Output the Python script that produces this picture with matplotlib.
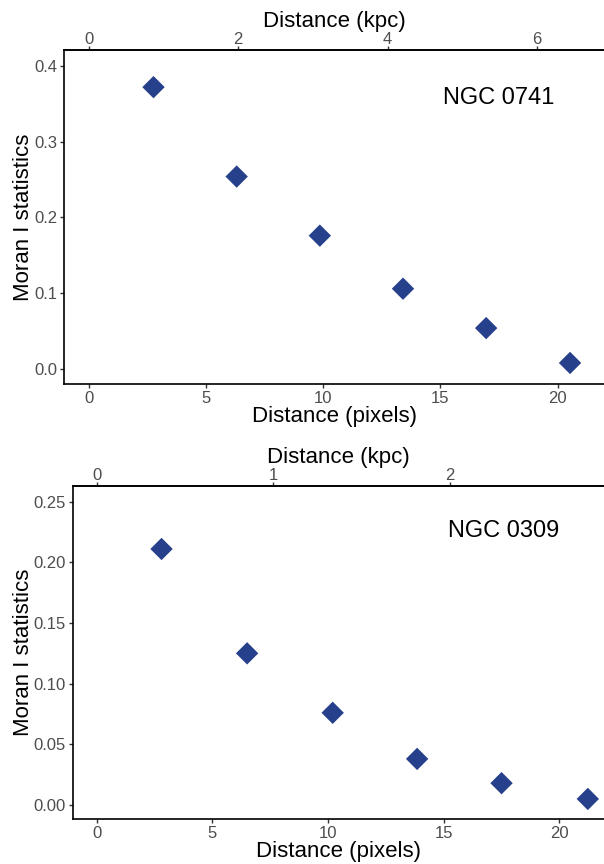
import matplotlib
matplotlib.use("Agg")
import matplotlib.pyplot as plt
import numpy as np

plt.rcParams['font.family'] = ['Liberation Sans', 'DejaVu Sans']

# Panel 1: NGC 0741
dist_px_1 = [2.75, 6.3, 9.85, 13.4, 16.95, 20.53]
moran_1 = [0.372, 0.254, 0.176, 0.106, 0.054, 0.008]
kpc_per_px_1 = 0.314
name_1 = "NGC 0741"

# Panel 2: NGC 0309
dist_px_2 = [2.8, 6.5, 10.2, 13.85, 17.5, 21.23]
moran_2 = [0.211, 0.125, 0.076, 0.038, 0.018, 0.005]
kpc_per_px_2 = 0.1309
name_2 = "NGC 0309"

color = "#27408B"
tick_grey = "#4D4D4D"

fig = plt.figure(figsize=(6.04, 8.64), dpi=100)

def panel(rect, xs, ys, k, name, xlim, ylim, yticks, kticks, ytickfmt, txt_x, txt_y, ylab_x):
    ax = fig.add_axes(rect)
    ax.scatter(xs, ys, marker='D', s=130, color=color, edgecolors='none', zorder=3,
               clip_on=False)
    ax.set_xlim(*xlim)
    ax.set_ylim(*ylim)
    ax.set_xticks([0, 5, 10, 15, 20])
    ax.set_yticks(yticks)
    ax.set_yticklabels([ytickfmt.format(v) for v in yticks])
    ax.spines['right'].set_visible(False)
    for s in ['left', 'bottom', 'top']:
        ax.spines[s].set_linewidth(1.2)
        ax.spines[s].set_color('black')
    ax.tick_params(axis='both', direction='out', length=3, width=1, color='#333333',
                   labelsize=12, labelcolor=tick_grey, pad=2)
    ax.set_xlabel("Distance (pixels)", fontsize=16, labelpad=0)
    ax.set_ylabel("Moran I statistics", fontsize=16)
    ax.yaxis.set_label_coords(ylab_x, 0.5)
    sec = ax.secondary_xaxis('top', functions=(lambda x: x * k, lambda x: x / k))
    sec.set_xticks(kticks)
    sec.spines['top'].set_linewidth(1.2)
    sec.tick_params(axis='x', direction='out', length=3, width=1, color='#333333',
                    labelsize=12, labelcolor=tick_grey, pad=-1)
    sec.set_xlabel("Distance (kpc)", fontsize=16, labelpad=3.5)
    ax.text(txt_x, txt_y, name, transform=ax.transAxes, fontsize=17, ha='right', va='center')
    return ax

panel([0.1060, 0.5552, 0.894, 0.3869], dist_px_1, moran_1, kpc_per_px_1, name_1,
      (-1.07, 21.98), (-0.0202, 0.421), [0.0, 0.1, 0.2, 0.3, 0.4], [0, 2, 4, 6], "{:.1f}",
      0.909, 0.856, -0.056)
panel([0.1204, 0.0517, 0.8796, 0.3858], dist_px_2, moran_2, kpc_per_px_2, name_2,
      (-1.04, 21.93), (-0.0118, 0.2629), [0.0, 0.05, 0.10, 0.15, 0.20, 0.25], [0, 1, 2],
      "{:.2f}", 0.915, 0.865, -0.073)

fig.savefig("out.png", dpi=100)
